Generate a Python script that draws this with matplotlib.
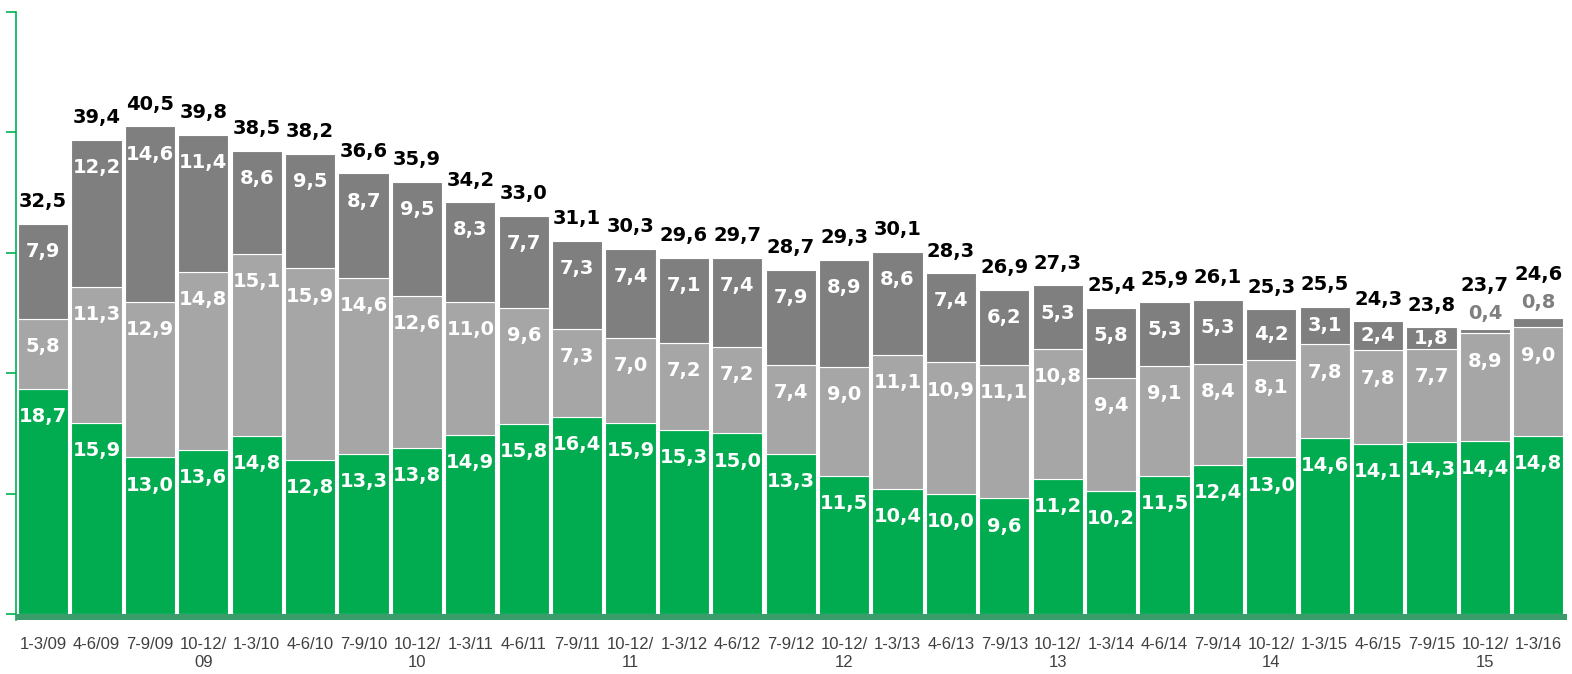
"""Stacked quarterly bars: green base, light and dark gray segments, totals on top."""

import matplotlib

matplotlib.use("Agg")
from matplotlib import pyplot as plt

import numpy as np

quarters = [
    "1-3/09", "4-6/09", "7-9/09", "10-12/\n09", "1-3/10", "4-6/10", "7-9/10",
    "10-12/\n10", "1-3/11", "4-6/11", "7-9/11", "10-12/\n11", "1-3/12", "4-6/12",
    "7-9/12", "10-12/\n12", "1-3/13", "4-6/13", "7-9/13", "10-12/\n13", "1-3/14",
    "4-6/14", "7-9/14", "10-12/\n14", "1-3/15", "4-6/15", "7-9/15", "10-12/\n15",
    "1-3/16",
]
green_vals = [
    18.7, 15.9, 13.0, 13.6, 14.8, 12.8, 13.3, 13.8, 14.9, 15.8, 16.4, 15.9, 15.3,
    15.0, 13.3, 11.5, 10.4, 10.0, 9.6, 11.2, 10.2, 11.5, 12.4, 13.0, 14.6, 14.1,
    14.3, 14.4, 14.8,
]
light_vals = [
    5.8, 11.3, 12.9, 14.8, 15.1, 15.9, 14.6, 12.6, 11.0, 9.6, 7.3, 7.0, 7.2, 7.2,
    7.4, 9.0, 11.1, 10.9, 11.1, 10.8, 9.4, 9.1, 8.4, 8.1, 7.8, 7.8, 7.7, 8.9, 9.0,
]
dark_vals = [
    7.9, 12.2, 14.6, 11.4, 8.6, 9.5, 8.7, 9.5, 8.3, 7.7, 7.3, 7.4, 7.1, 7.4, 7.9,
    8.9, 8.6, 7.4, 6.2, 5.3, 5.8, 5.3, 5.3, 4.2, 3.1, 2.4, 1.8, 0.4, 0.8,
]
totals = [
    32.5, 39.4, 40.5, 39.8, 38.5, 38.2, 36.6, 35.9, 34.2, 33.0, 31.1, 30.3, 29.6,
    29.7, 28.7, 29.3, 30.1, 28.3, 26.9, 27.3, 25.4, 25.9, 26.1, 25.3, 25.5, 24.3,
    23.8, 23.7, 24.6,
]

GREEN = "#00AC4F"
LIGHT = "#A6A6A6"
DARK = "#7F7F7F"


def fmt(v):
    return f"{v:.1f}".replace(".", ",")


fig = plt.figure(figsize=(15.72, 6.74), dpi=100)
ax = fig.add_axes([0.0102, 0.0801, 0.9864, 0.902])

x = np.arange(len(quarters))
green = np.array(green_vals)
light = np.array(light_vals)
dark = np.array(dark_vals)
width = 0.94

ax.bar(x, green, width, color=GREEN, edgecolor="white", linewidth=0.8, zorder=2)
ax.bar(x, light, width, bottom=green, color=LIGHT, edgecolor="white",
       linewidth=0.8, zorder=2)
ax.bar(x, dark, width, bottom=green + light, color=DARK, edgecolor="white",
       linewidth=0.8, zorder=2)

# axis floor band under the bars
ax.axhspan(-0.5, 0, color="#3A9B6B", zorder=3, linewidth=0)

lab_kw = dict(ha="center", va="center", fontsize=14, fontweight="bold",
              family="DejaVu Sans", zorder=4)

for i in x:
    segs = [(0, green[i]), (green[i], light[i]), (green[i] + light[i], dark[i])]
    top = green[i] + light[i] + dark[i]
    for b, h in segs:
        if h < 1:
            # tiny segment: label sits above the bar in gray
            ax.text(i, top + 1.3, fmt(h), color=DARK, **lab_kw)
            continue
        ax.text(i, b + h - min(2.3, h / 2), fmt(h), color="white", **lab_kw)
    off = 3.6 if dark[i] < 1 else 1.85
    ax.text(i, top + off, fmt(totals[i]), color="black", **lab_kw)

ax.set_xlim(-0.508, len(quarters) - 0.47)
ax.set_ylim(-0.5, 50)

for side in ["top", "right", "bottom"]:
    ax.spines[side].set_visible(False)
ax.spines["left"].set_color("#00B050")
ax.spines["left"].set_linewidth(1.2)
ax.spines["left"].set_bounds(-0.5, 50)

ax.set_yticks(np.arange(0, 51, 10))
ax.set_yticklabels([])
ax.tick_params(axis="y", length=7, width=1.2, color="#00B050", direction="out")

ax.set_xticks(x)
ax.set_xticklabels(quarters, fontsize=12, color="#404040",
                   family="Liberation Sans", linespacing=1.25)
ax.tick_params(axis="x", length=0, pad=12)
ax.set_facecolor("white")

fig.savefig("out.png", dpi=100, facecolor="white")
